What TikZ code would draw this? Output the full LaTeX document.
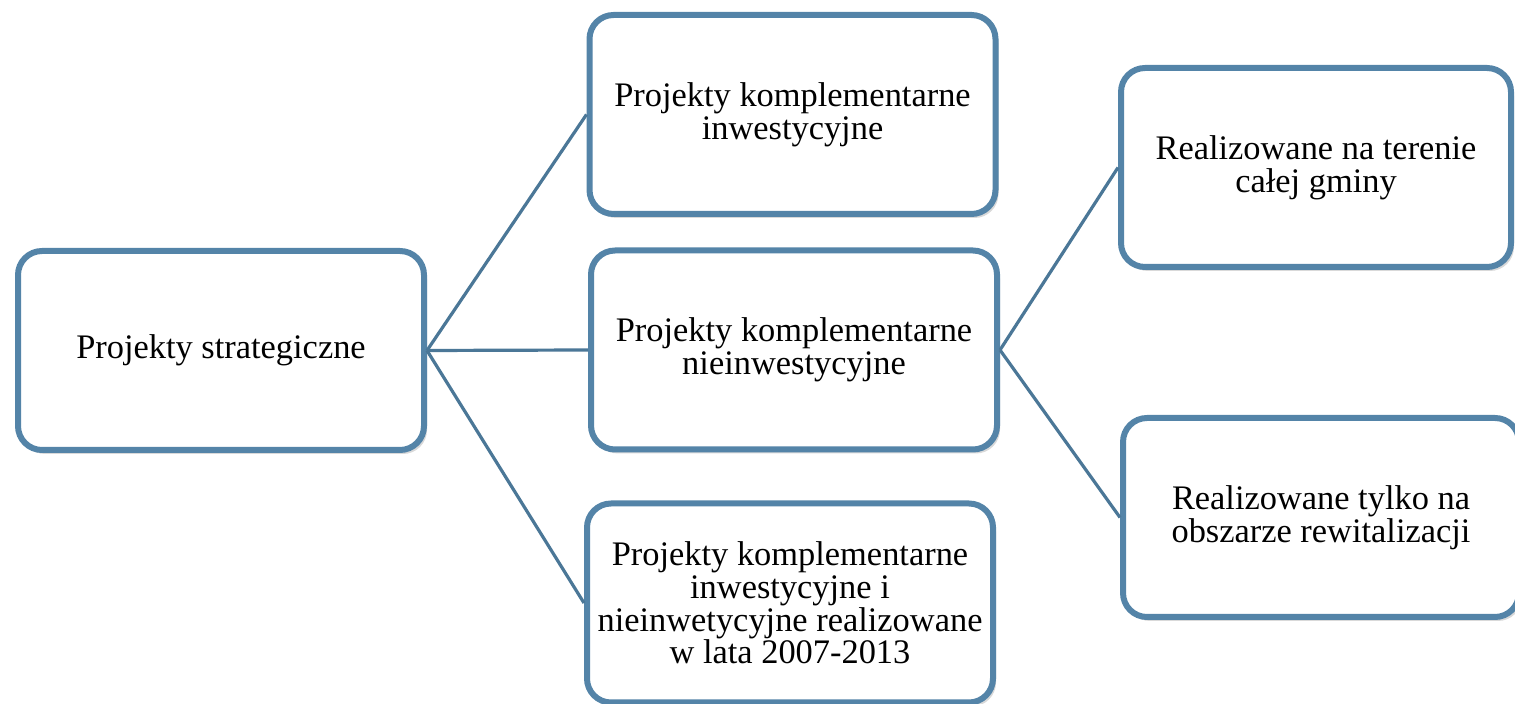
\documentclass[tikz,border=0pt]{standalone}
\usepackage{fontspec}
\setmainfont{Liberation Serif}
\usetikzlibrary{shadows}
\definecolor{boxblue}{HTML}{5484A8}
\definecolor{linkblue}{HTML}{4B7797}
\tikzset{
  projbox/.style={draw=boxblue, line width=3pt, rounded corners=12pt, fill=white,
    minimum width=203pt, minimum height=99.5pt, align=center, inner sep=0pt,
    font=\fontsize{17.2}{16.3}\selectfont,
    drop shadow={shadow xshift=1.5pt, shadow yshift=-2pt, opacity=0.25, fill=black!60}},
  link/.style={draw=linkblue, line width=1.6pt}
}
\begin{document}
\begin{tikzpicture}[x=0.5pt,y=-0.5pt]
\useasboundingbox (0,0) rectangle (1515,704);
% boxes
\node[projbox] (strat) at (221,350.5) {Projekty strategiczne};
\node[projbox] (inw) at (792.5,114.5) {Projekty komplementarne\\inwestycyjne};
\node[projbox] (nieinw) at (794,350) {Projekty komplementarne\\nieinwestycyjne};
\node[projbox] (lata) at (790,603) {Projekty komplementarne\\inwestycyjne i\\nieinwetycyjne realizowane\\w lata 2007-2013};
\node[projbox, minimum width=195pt] (gminy) at (1316,167.5) {Realizowane na terenie\\całej gminy};
\node[projbox, minimum width=198pt] (rewit) at (1321,517.5) {Realizowane tylko na\\obszarze rewitalizacji};
% connectors
\draw[link] (strat.east) -- (inw.west);
\draw[link] (strat.east) -- (nieinw.west);
\draw[link] (strat.east) -- (lata.west);
\draw[link] (nieinw.east) -- (gminy.west);
\draw[link] (nieinw.east) -- (rewit.west);
\end{tikzpicture}
\end{document}
